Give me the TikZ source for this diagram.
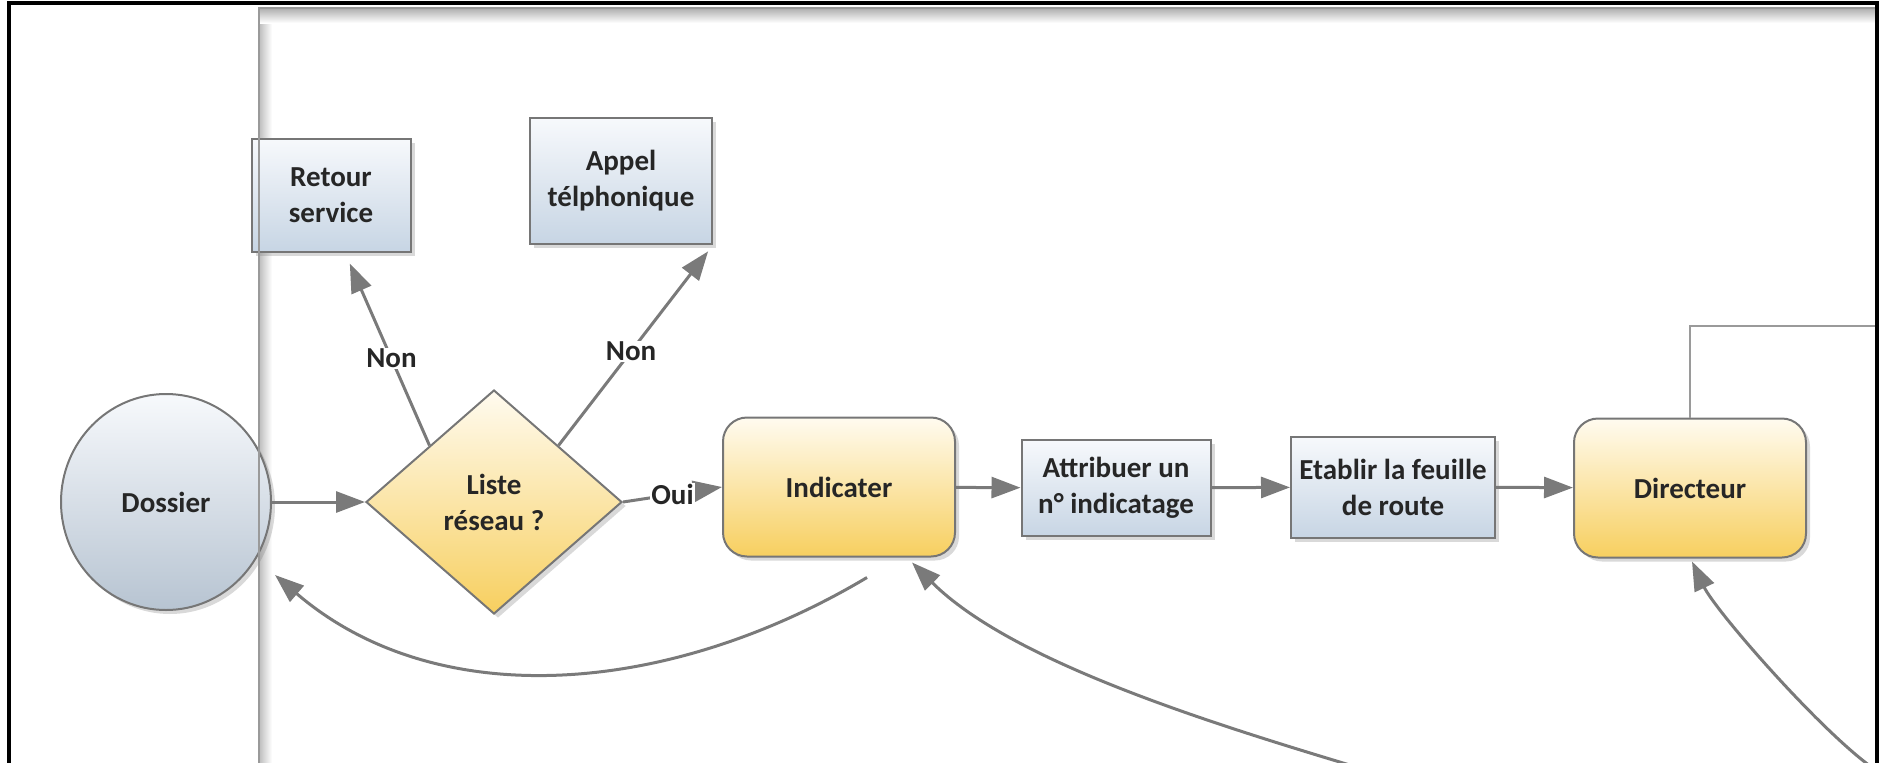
\documentclass[tikz,border=0pt]{standalone}
\usepackage{fontspec}
\setmainfont{Carlito}
\usetikzlibrary{shapes.geometric,arrows.meta,shadows,calc}
\definecolor{flowgray}{HTML}{7A7A7A}
\definecolor{edgegray}{HTML}{767676}
\definecolor{lanegray}{HTML}{9A9A9A}
\definecolor{inkgray}{HTML}{262626}
\definecolor{blueTop}{HTML}{F7F9FC}
\definecolor{blueBot}{HTML}{C7D5E4}
\definecolor{yelTop}{HTML}{FFFBF0}
\definecolor{yelBot}{HTML}{F7CF5F}

\begin{document}
\begin{tikzpicture}[x=1pt,y=-1pt,
    every node/.style={font=\fontsize{29}{36}\selectfont\bfseries,text=inkgray,align=center},
    boxshadow/.style={drop shadow={shadow xshift=4pt,shadow yshift=-4pt,opacity=0.3}},
    bluebox/.style={boxshadow,draw=edgegray,line width=2pt,top color=blueTop,bottom color=blueBot,inner sep=0pt},
    yelbox/.style={boxshadow,draw=edgegray,line width=2pt,top color=yelTop,bottom color=yelBot,rounded corners=24pt,minimum width=232pt,minimum height=139pt},
    flow/.style={flowgray,line width=3pt,-{Triangle[length=29pt,width=21pt]}},
    lab/.style={fill=white,inner sep=1pt}]
  \useasboundingbox (0,0) rectangle (1883,763);

  % lane shading
  \fill[left color=lanegray!60,right color=white] (260,14) rectangle (272,763);
  \fill[top color=lanegray!75,bottom color=white] (258,9) rectangle (1877,23);

  % steps
  \node[ellipse,boxshadow,draw=edgegray,line width=2pt,top color=blueTop,bottom color=blueBot!92!black,minimum width=210pt,minimum height=216pt] (doss) at (166,502) {Dossier};
  \node[diamond,aspect=1.14,boxshadow,draw=edgegray,line width=2pt,top color=yelTop,bottom color=yelBot,minimum width=256pt,minimum height=224pt,inner sep=0pt] (dia) at (494,502) {Liste\\réseau ?};
  \node[bluebox,minimum width=159pt,minimum height=113pt] (ret) at (331,195) {Retour\\service};
  \node[bluebox,minimum width=182pt,minimum height=126pt] (app) at (621,181) {Appel\\télphonique};
  \node[yelbox] (ind) at (839,487) {Indicater};
  \node[bluebox,minimum width=189pt,minimum height=96pt] (attr) at (1116,488) {Attribuer un\\n° indicatage};
  \node[bluebox,minimum width=204pt,minimum height=101pt] (etab) at (1393,487) {Etablir la feuille\\de route};
  \node[yelbox] (dir) at (1690,488) {Directeur};

  % lanes
  \draw[lanegray,line width=2.5pt] (259,763) -- (259,8) -- (1876,8);
  \draw[lanegray,line width=2.5pt] (dir.north) |- (1876,326);
  \draw[line width=3.5pt] (9,765) -- (9,3) -- (1877,3) -- (1877,765);

  % flow
  \draw[flow] (doss.east) -- (dia.west);
  \draw[flow,shorten >=12pt] (dia.north west) -- node[lab,pos=0.45] {Non} ([xshift=14pt]ret.south);
  \draw[flow,shorten >=8pt] (dia.north east) -- node[lab,pos=0.47] {Non} (app.south east);
  \draw[flow] (dia.east) -- node[lab] {Oui} (ind.west);
  \draw[flow] (ind) -- (attr);
  \draw[flow] (attr) -- (etab);
  \draw[flow] (etab) -- (dir);

  % returns
  \coordinate (foot1) at (1353,766);
  \coordinate (foot2) at (1870,766);
  \draw[flow] ($(ind.south)+(28,20)$) .. controls (668,696) and (437,714) .. ($(doss.east)+(3,73)$);
  \draw[flow] (foot1) .. controls (1200,720) and (1010,660) .. ($(ind.south east)+(-44,5)$);
  \draw[flow] (foot2) .. controls (1815,725) and (1715,610) .. ($(dir.south)+(2,3)$);
\end{tikzpicture}
\end{document}
